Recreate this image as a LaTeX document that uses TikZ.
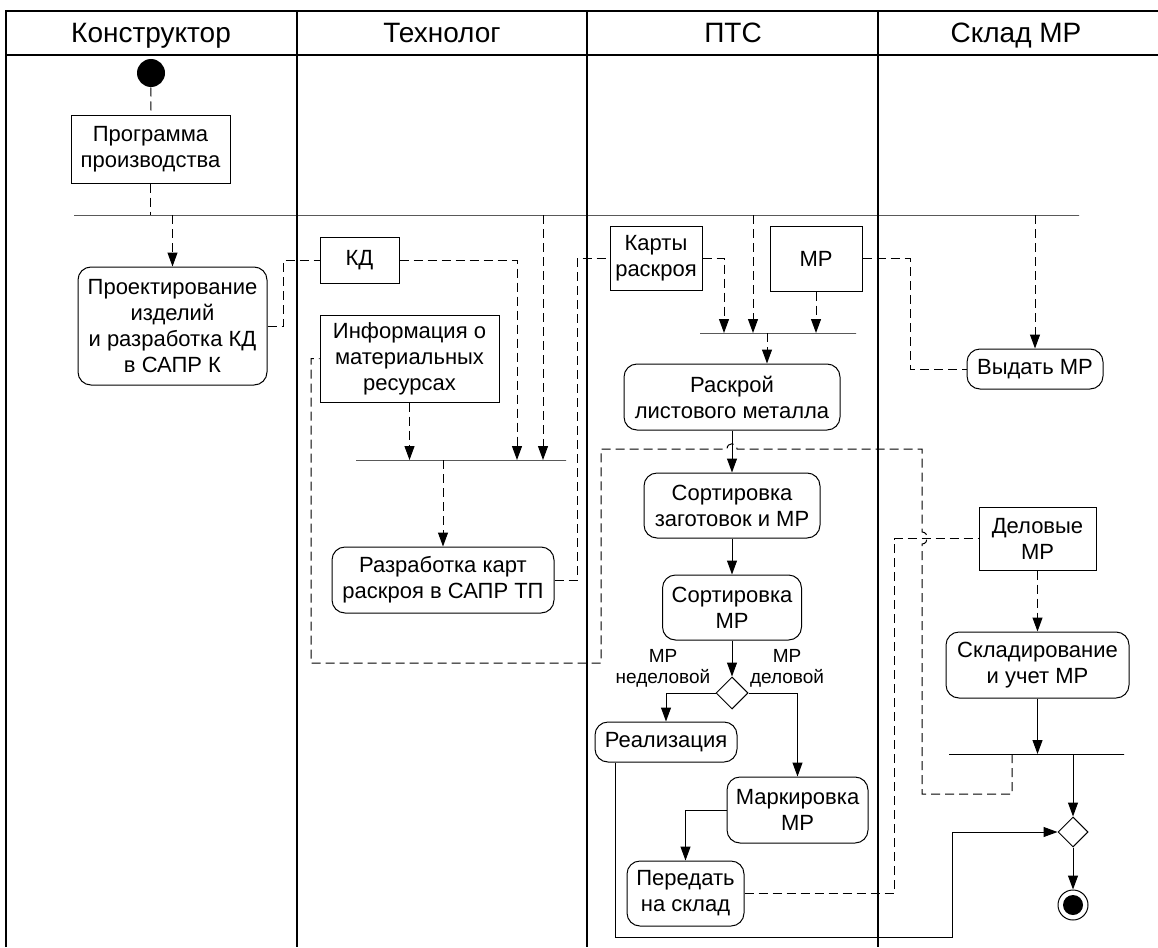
\documentclass[tikz,border=0pt]{standalone}
\usepackage{fontspec}
\setmainfont{Liberation Sans}
\usetikzlibrary{arrows.meta,shapes.geometric}

\begin{document}
\begin{tikzpicture}[x=1pt,y=-1pt,line width=1pt,
act node/.style={draw,rounded corners=13pt,align=center,inner sep=0pt,font=\fontsize{22}{26}\selectfont},
obj node/.style={draw,rectangle,align=center,inner sep=0pt,font=\fontsize{22}{26}\selectfont},
dec node/.style={draw,diamond,minimum size=32pt,inner sep=0pt},
bar node/.style={draw,rectangle,minimum height=0pt,inner sep=0pt,line width=1pt},
lane head/.style={anchor=base,font=\fontsize{28}{32}\selectfont},
guard/.style={align=center,inner sep=0pt,font=\fontsize{19}{21}\selectfont},
flow/.style={-{Triangle[length=14pt,width=10pt]}},
oflow/.style={dash pattern=on 9pt off 5pt}]
\useasboundingbox(0,0)rectangle(1158,947);
\draw[line width=1.3pt](6,947)--(6,11)--(1158,11);
\draw[line width=1.3pt](6,55)--(1158,55);
\foreach \x in {297,587,878} \draw[line width=1.3pt](\x,11)--(\x,947);
\node[lane head](h1)at(151,43){Конструктор};
\node[lane head](h2)at(442,43){Технолог};
\node[lane head](h3)at(733,43){ПТС};
\node[lane head](h4)at(1016,43){Склад МР};
\node[circle,fill=black,minimum size=28pt,inner sep=0pt](0)at(151,73){};
\node[obj node,minimum width=159pt,minimum height=67pt](1)at(150.5,149.5){Программа\\производства};
\node[bar node,minimum width=1005pt](b1)at(576.5,215){};
\node[act node,minimum width=189pt,minimum height=118pt](2)at(172.5,326){Проектирование\\изделий\\и разработка КД\\в САПР К};
\node[obj node,minimum width=79pt,minimum height=46pt](3)at(359.5,260){КД};
\node[obj node,minimum width=179pt,minimum height=87pt](4)at(409.5,358.5){Информация о\\материальных\\ресурсах};
\node[bar node,minimum width=210pt](b2)at(461,460){};
\node[act node,minimum width=222pt,minimum height=66pt](5)at(443,580){Разработка карт\\раскроя в САПР ТП};
\node[obj node,minimum width=92pt,minimum height=64pt](6)at(656,258){Карты\\раскроя};
\node[obj node,minimum width=92pt,minimum height=65pt](7)at(816,258.5){МР};
\node[bar node,minimum width=156pt](b3)at(778,333){};
\node[act node,minimum width=216pt,minimum height=66pt](8)at(732,397){Раскрой\\листового металла};
\node[act node,minimum width=176pt,minimum height=65pt](9)at(732,505.5){Сортировка\\заготовок и МР};
\node[act node,minimum width=139pt,minimum height=65pt](10)at(732,607.5){Сортировка\\МР};
\node[dec node](11)at(732,693){};
\node[guard](l1)at(663,668){МР\\неделовой};
\node[guard](l2)at(787,668){МР\\деловой};
\node[act node,minimum width=142pt,minimum height=40pt](12)at(666,742){Реализация};
\node[act node,minimum width=141pt,minimum height=66pt](13)at(797.5,810){Маркировка\\МР};
\node[act node,minimum width=117pt,minimum height=65pt](14)at(685.5,893.5){Передать\\на склад};
\node[act node,minimum width=136pt,minimum height=40pt](15)at(1035,369){Выдать МР};
\node[obj node,minimum width=117pt,minimum height=63pt](16)at(1037.5,538.5){Деловые\\МР};
\node[act node,minimum width=183pt,minimum height=66pt](17)at(1037.5,665){Складирование\\и учет МР};
\node[bar node,minimum width=175pt](b4)at(1036.5,754){};
\node[dec node,minimum size=30pt](18)at(1073,832){};
\node[circle,draw,minimum size=30pt,inner sep=0pt](19)at(1073,905){};
\fill(19)circle(10);
\draw[oflow](0)--(1);
\draw[oflow](1)--(1 |- b1);
\draw[oflow,flow](b1 -| 2)--(2);
\draw[oflow](2)--(283,326)|-(3);
\draw[oflow,flow](3)-|(b2 -| 517,0);
\draw[oflow,flow](4)--(4 |- b2);
\draw[oflow,flow](b1 -| 543,0)--(b2 -| 543,0);
\draw[oflow,flow](b2 -| 5)--(5);
\draw[oflow](5)--(577,580)|-(6);
\draw[oflow,flow](6)-|(b3 -| 724,0);
\draw[oflow,flow](b1 -| 753,0)--(b3 -| 753,0);
\draw[oflow,flow](7)--(7 |- b3);
\draw[oflow,flow](b3 -| 767,0)--(8.north -| 767,0);
\draw[oflow](7)--(910,258.5)|-(15);
\draw[oflow,flow](b1 -| 15)--(15);
\draw[flow](8)--(9);
\draw[flow](9)--(10);
\draw[flow](10)--(11);
\draw[flow](11)-|(12);
\draw[flow](11)-|(13);
\draw[flow](13)-|(14);
\draw[flow](12.south -| 615,0)--(615,937)-|(952,832)--(18);
\draw[oflow](14)--(894,893.5)|-(16);
\draw[oflow,flow](16)--(17);
\draw[flow](17)--(17 |- b4);
\draw[flow](b4 -| 18)--(18);
\draw[flow](18)--(19);
\draw[oflow](b4 -| 1012,0)--(1012,794)-|(922,544).. controls (929,544) and (929,532) ..(922,532)--(922,449)--(737,449).. controls (737,442) and (727,442) ..(727,449)--(601,449)--(601,663)--(311,663)--(311,358.5)--(4);
\end{tikzpicture}
\end{document}
